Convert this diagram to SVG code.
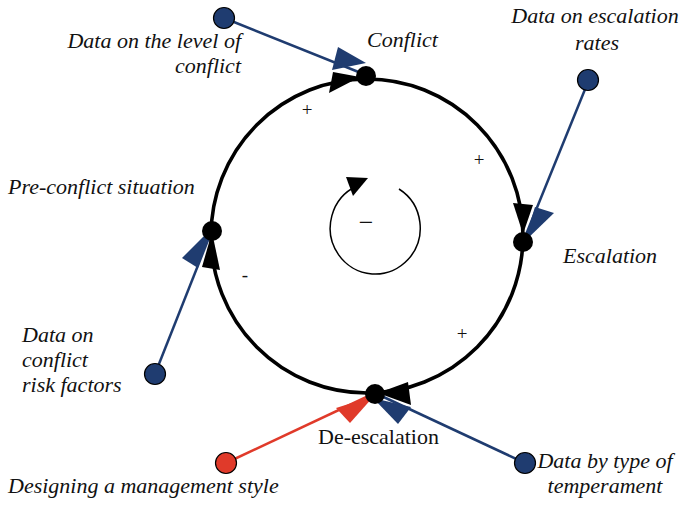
<svg xmlns="http://www.w3.org/2000/svg" width="681" height="507" viewBox="0 0 681 507">
<style>
.t{font-family:"Liberation Serif","Times New Roman",serif;font-size:22px;font-style:italic;fill:#111}
.n{font-family:"Liberation Serif","Times New Roman",serif;font-size:22px;fill:#111}
.s{font-family:"Liberation Serif","Times New Roman",serif;font-size:19px;fill:#111}
.bl{stroke:#1f3c70;stroke-width:2.5;fill:none}
.rd{stroke:#e03a2a;stroke-width:2.5;fill:none}
.bd{fill:#1f3c70;stroke:#000;stroke-width:1.2}
.rdd{fill:#e03a2a;stroke:#000;stroke-width:1.2}
.ba{fill:#1f3c70}
.ra{fill:#e03a2a}
.k{fill:#000}
</style>
<rect width="681" height="507" fill="#fff"/>
<g id="cycle">
<ellipse cx="367" cy="236" rx="156" ry="157" fill="none" stroke="#000" stroke-width="3.6"/>
</g>
<g id="connectors">
<line class="bl" x1="224" y1="18" x2="366" y2="75"/>
<line class="bl" x1="588" y1="82" x2="523" y2="242"/>
<line class="bl" x1="155" y1="374" x2="212" y2="230"/>
<line class="bl" x1="525" y1="463" x2="375" y2="393"/>
<line class="rd" x1="226" y1="463" x2="375" y2="393"/>
<polygon class="k" points="333,72 329,93 360,77"/>
<polygon class="k" points="513,203 533,205 523,234"/>
<polygon class="k" points="378,393 408,382 411,405"/>
<polygon class="k" points="202,267 220,270 212,232"/>
<polygon class="ba" points="338,47 332,70 366,63"/>
<polygon class="ba" points="535,207 554,213 524,242"/>
<polygon class="ba" points="182,258 198,268 211,229"/>
<polygon class="ba" points="373,398 411,407 398,424"/>
<polygon class="ra" points="336,408 350,423 374,396"/>
</g>
<g id="loop">
<path d="M399,189 A45,46 0 1 1 357,186" fill="none" stroke="#000" stroke-width="1.5"/>
<polygon class="k" points="346,177 368,178 353,196"/>
<text class="n" x="366" y="231" text-anchor="middle" style="font-size:26px">−</text>
</g>
<g id="n-conflict">
<circle cx="366" cy="76" r="10" class="k"/>
<text class="t" x="367" y="47">Conflict</text>
</g>
<g id="n-escalation">
<circle cx="523" cy="242" r="10" class="k"/>
<text class="t" x="563" y="263">Escalation</text>
</g>
<g id="n-deescalation">
<circle cx="375" cy="394" r="10" class="k"/>
<text class="n" x="318" y="444">De-escalation</text>
</g>
<g id="n-preconflict">
<circle cx="212" cy="231" r="10" class="k"/>
<text class="t" x="8" y="194">Pre-conflict situation</text>
</g>
<g id="d-level">
<circle cx="224" cy="18" r="10.5" class="bd"/>
<text class="t" x="241" y="48" text-anchor="end">Data on the level of</text>
<text class="t" x="241" y="73" text-anchor="end">conflict</text>
</g>
<g id="d-rates">
<circle cx="588" cy="80" r="10.5" class="bd"/>
<text class="t" x="595" y="23" text-anchor="middle">Data on escalation</text>
<text class="t" x="597" y="50" text-anchor="middle">rates</text>
</g>
<g id="d-risk">
<circle cx="155" cy="374" r="10.5" class="bd"/>
<text class="t" x="22" y="342">Data on</text>
<text class="t" x="22" y="367">conflict</text>
<text class="t" x="22" y="392">risk factors</text>
</g>
<g id="d-temper">
<circle cx="525" cy="463" r="10.5" class="bd"/>
<text class="t" x="605" y="468" text-anchor="middle">Data by type of</text>
<text class="t" x="605" y="493" text-anchor="middle">temperament</text>
</g>
<g id="d-style">
<circle cx="226" cy="463" r="10.5" class="rdd"/>
<text class="t" x="8" y="493">Designing a management style</text>
</g>
<g id="signs">
<text class="s" x="307" y="116" text-anchor="middle">+</text>
<text class="s" x="479" y="166" text-anchor="middle">+</text>
<text class="s" x="462" y="340" text-anchor="middle">+</text>
<text class="s" x="245" y="281" text-anchor="middle">-</text>
</g>
</svg>
